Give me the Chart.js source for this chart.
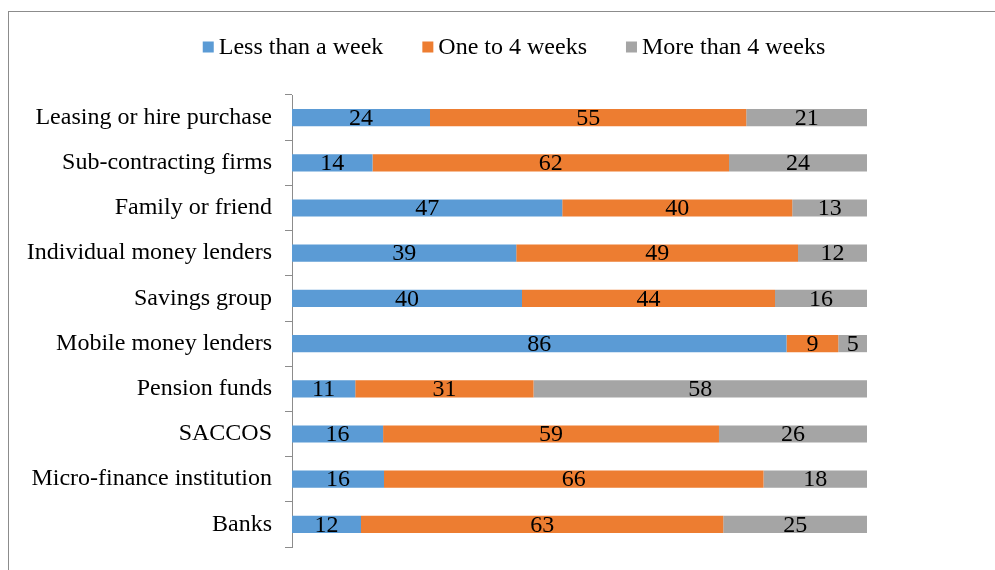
<!DOCTYPE html>
<html>
<head>
<meta charset="utf-8">
<script src="https://cdn.jsdelivr.net/npm/chart.js@4/dist/chart.umd.min.js"></script>
<style>
  html, body { margin: 0; padding: 0; background: #fff; }
  #wrap { width: 995px; height: 570px; position: relative; }
</style>
</head>
<body>
<div id="wrap"><canvas id="chart" width="995" height="570"></canvas></div>
<script>
// categories, top to bottom
const categories = [
  'Leasing or hire purchase', 'Sub-contracting firms', 'Family or friend',
  'Individual money lenders', 'Savings group', 'Mobile money lenders',
  'Pension funds', 'SACCOS', 'Micro-finance institution', 'Banks'
];
const seriesNames = ['Less than a week', 'One to 4 weeks', 'More than 4 weeks'];
const lessThanWeek = [24, 14, 47, 39, 40, 86, 11, 16, 16, 12];
const oneToFour    = [55, 62, 40, 49, 44, 9, 31, 59, 66, 63];
const moreThanFour = [21, 24, 13, 12, 16, 5, 58, 26, 18, 25];
const seriesColors = ['#5B9BD5', '#ED7D31', '#A5A5A5'];

const FONT = "'Liberation Serif', 'Times New Roman', serif";
const raw = [lessThanWeek, oneToFour, moreThanFour];
const totals = categories.map((_, i) => raw.reduce((s, arr) => s + arr[i], 0));

// 100% stacked: plot shares, label with the original numbers
const datasets = raw.map((arr, k) => ({
  label: seriesNames[k],
  data: arr.map((v, i) => v / totals[i] * 100),
  rawValues: arr,
  backgroundColor: seriesColors[k],
  borderWidth: 0,
  barPercentage: 0.38,
  categoryPercentage: 1
}));

const frame = {
  id: 'frame',
  beforeDraw(chart) {
    const c = chart.ctx;
    c.save();
    c.strokeStyle = '#8c8c8c';
    c.lineWidth = 1;
    c.strokeRect(8.5, 11.5, 1100, 700);
    c.restore();
  }
};

// legend drawn by hand so it sits where the original one does
const topLegend = {
  id: 'topLegend',
  afterDraw(chart) {
    const c = chart.ctx;
    const box = 11, gap = 5, between = 39, cy = 47;
    c.save();
    c.font = '24px ' + FONT;
    const widths = seriesNames.map(n => c.measureText(n).width);
    const total = widths.reduce((s, w) => s + box + gap + w, 0) + between * (seriesNames.length - 1);
    let x = 514 - total / 2;
    c.textBaseline = 'middle';
    c.textAlign = 'left';
    seriesNames.forEach((n, k) => {
      c.fillStyle = seriesColors[k];
      c.fillRect(x, cy - box / 2, box, box);
      c.fillStyle = '#000';
      c.fillText(n, x + box + gap, cy + 1);
      x += box + gap + widths[k] + between;
    });
    c.restore();
  }
};

const valueLabels = {
  id: 'valueLabels',
  afterDatasetsDraw(chart) {
    const c = chart.ctx;
    c.save();
    c.font = '24px ' + FONT;
    c.fillStyle = '#000';
    c.textAlign = 'center';
    c.textBaseline = 'middle';
    chart.data.datasets.forEach((ds, k) => {
      chart.getDatasetMeta(k).data.forEach((bar, i) => {
        const cx = (bar.x + bar.base) / 2;
        c.fillText(String(ds.rawValues[i]), cx, bar.y + 1);
      });
    });
    c.restore();
  }
};

new Chart(document.getElementById('chart'), {
  type: 'bar',
  data: { labels: categories, datasets: datasets },
  options: {
    indexAxis: 'y',
    responsive: false,
    animation: false,
    layout: { padding: { top: 95, right: 128, bottom: 23, left: 0 } },
    plugins: {
      legend: { display: false },
      tooltip: { enabled: false }
    },
    scales: {
      x: {
        stacked: true,
        min: 0,
        max: 100,
        display: false
      },
      y: {
        stacked: true,
        grid: {
          drawOnChartArea: false,
          drawTicks: true,
          tickLength: 7,
          color: '#8c8c8c',
          offset: true
        },
        border: { display: true, color: '#8c8c8c' },
        ticks: {
          color: '#000',
          padding: 13,
          font: { family: FONT, size: 24 }
        },
        afterFit(scale) {
          scale.width = 292;
          scale.paddingTop = 0;
          scale.paddingBottom = 0;
        }
      }
    }
  },
  plugins: [frame, valueLabels, topLegend]
});
</script>
</body>
</html>
